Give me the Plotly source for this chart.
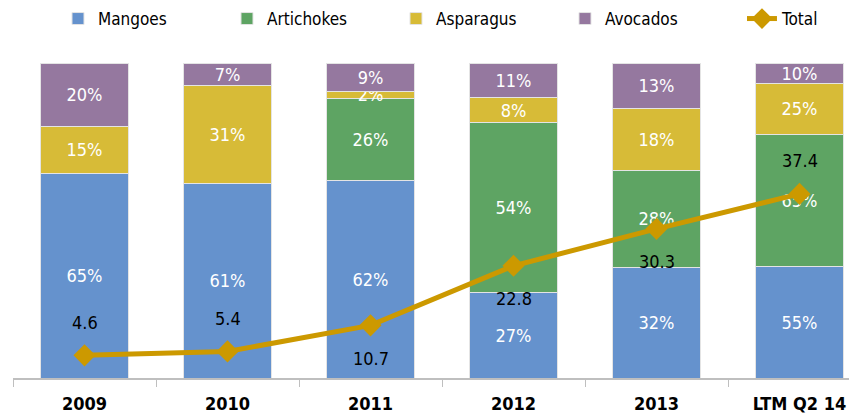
import plotly.graph_objects as go

categories = ["2009", "2010", "2011", "2012", "2013", "LTM Q2 14"]
mangoes = [65, 61, 62, 27, 32, 55]
artichokes = [0, 0, 26, 54, 28, 65]
asparagus = [15, 31, 2, 8, 18, 25]
avocados = [20, 7, 9, 11, 13, 10]
total = [4.6, 5.4, 10.7, 22.8, 30.3, 37.4]
total_label_side = [1, 1, -1, -1, -1, 1]  # 1 = above, -1 = below

FONT = "DejaVu Sans Condensed, DejaVu Sans, sans-serif"
series = [
    ("Mangoes", mangoes, "#6592CD"),
    ("Artichokes", artichokes, "#5EA463"),
    ("Asparagus", asparagus, "#D7BB37"),
    ("Avocados", avocados, "#95789F"),
]

fig = go.Figure()
for name, vals, color in series:
    fig.add_trace(go.Bar(
        x=categories, y=vals, name=name,
        marker=dict(color=color, line=dict(color="#E4E4E4", width=1)),
        text=[f"{v}%" if v else "" for v in vals],
        textposition="inside", insidetextanchor="middle", textangle=0,
        textfont=dict(color="white", size=18, family=FONT),
        hoverinfo="skip", legend="legend",
    ))

fig.add_trace(go.Scatter(
    x=categories, y=total, name="Total", yaxis="y2",
    mode="lines+markers",
    line=dict(color="#CC9900", width=5),
    marker=dict(symbol="diamond", size=17, color="#CC9900"),
    legend="legend2",
))

for i, (v, s) in enumerate(zip(total, total_label_side)):
    fig.add_annotation(x=i, y=v, xref="x", yref="y2", text=f"{v}",
                       showarrow=False, yshift=33 * s,
                       font=dict(size=18, color="black", family=FONT))

legend_common = dict(orientation="h", xanchor="left", y=1.1397, yanchor="middle",
                     font=dict(size=17, family=FONT), traceorder="normal",
                     bgcolor="rgba(0,0,0,0)")

fig.update_layout(
    width=857, height=415,
    margin=dict(l=5, r=0, t=55, b=45, autoexpand=False),
    barmode="stack", barnorm="percent", bargap=0.383,
    plot_bgcolor="white", paper_bgcolor="white",
    font=dict(family=FONT, size=17, color="black"),
    uniformtext=dict(minsize=18, mode="show"),
    showlegend=True,
    legend=dict(x=0.0528, entrywidth=124, entrywidthmode="pixels", **legend_common),
    legend2=dict(x=0.8556, **legend_common),
    xaxis=dict(type="category", range=[-0.5, 5.458], tickson="boundaries", ticks="outside",
               ticklen=7, tickcolor="#BFBFBF", showline=True, linecolor="#BFBFBF",
               linewidth=1.5, showgrid=False, ticklabelstandoff=9,
               tickfont=dict(size=18, family=FONT, color="black", weight="bold")),
    yaxis=dict(range=[0, 100], visible=False, showgrid=False),
    yaxis2=dict(range=[0, 64], overlaying="y", visible=False, showgrid=False),
)

fig.write_html("out.html")
